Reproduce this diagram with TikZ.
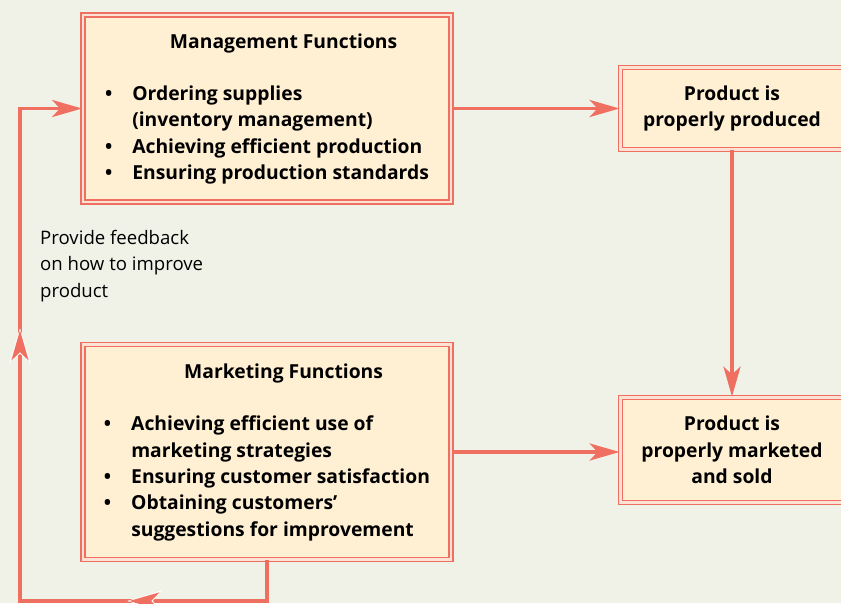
\documentclass[tikz,border=0pt]{standalone}
\usepackage{fontspec}
\setmainfont{Open Sans}
\usetikzlibrary{arrows.meta, positioning, decorations.markings}
\definecolor{mysalmon}{RGB}{239,112,97}
\definecolor{myfill}{RGB}{255,240,212}
\definecolor{mygap}{RGB}{252,226,212}
\definecolor{mybg}{RGB}{240,242,232}
\tikzset{
  fnbox/.style={rectangle, draw=mysalmon, fill=myfill, line width=1.8pt,
    double=mygap, double distance=2.2pt, inner sep=0pt, align=center,
    font=\fontsize{19.3}{26.3}\selectfont\bfseries},
  arrow/.style={-{Stealth[length=30pt, width=17pt, inset=8pt]},
    line width=3.8pt, color=mysalmon},
  line/.style={line width=3.8pt, color=mysalmon},
  halotip/.tip={Stealth[length=34pt, width=21pt, inset=9pt, white]},
  midtip/.tip={Stealth[length=30pt, width=17pt, inset=8pt, mysalmon]},
  midarrow/.style={postaction={decorate}, decoration={markings,
      mark=at position #1 with {\arrow{halotip}},
      mark=at position #1-1.6pt with {\arrow{midtip}}}}
}

\begin{document}
\begin{tikzpicture}[x=1pt, y=-1pt]
  \fill[mybg] (0,0) rectangle (841,603);
  \useasboundingbox (0,0) rectangle (841,603);

  \node[fnbox, minimum width=368pt, minimum height=187pt] (mgmt) at (267,108.5)
    {\begin{tabular}{@{}l@{\hspace{20pt}}l@{}}
      & \multicolumn{1}{c@{}}{Management Functions}\\[26pt]
      \textbullet & Ordering supplies\\
                  & (inventory management)\\
      \textbullet & Achieving efficient production\\
      \textbullet & Ensuring production standards
     \end{tabular}};
  \node[fnbox, minimum width=368pt, minimum height=215pt] (mkt) at (267,452)
    {\begin{tabular}{@{}l@{\hspace{20pt}}l@{}}
      & \multicolumn{1}{c@{}}{Marketing Functions}\\[26pt]
      \textbullet & Achieving efficient use of\\
                  & marketing strategies\\
      \textbullet & Ensuring customer satisfaction\\
      \textbullet & Obtaining customers’\\
                  & suggestions for improvement
     \end{tabular}};
  \node[fnbox, minimum width=223pt, minimum height=82pt] (prod) at (732,108.5)
    {Product is\\properly produced};
  \node[fnbox, minimum width=223pt, minimum height=105pt] (sold) at (732,450)
    {Product is\\properly marketed\\and sold};

  \node[anchor=north west, align=left, inner sep=0pt,
    font=\fontsize{18.6}{26.5}\selectfont] (fb) at (40,230)
    {Provide feedback\\on how to improve\\product};

  \draw[arrow] (mgmt.east) -- (prod.west |- mgmt.east);
  \draw[arrow] (prod) -- (sold);
  \draw[arrow] (mkt.east) -- (sold.west |- mkt.east);

  % feedback loop
  \coordinate (corner) at (20,601);
  \draw[arrow, midarrow=180pt, midarrow=560pt]
    (mkt.south) |- (corner) |- (mgmt.west);
\end{tikzpicture}
\end{document}
